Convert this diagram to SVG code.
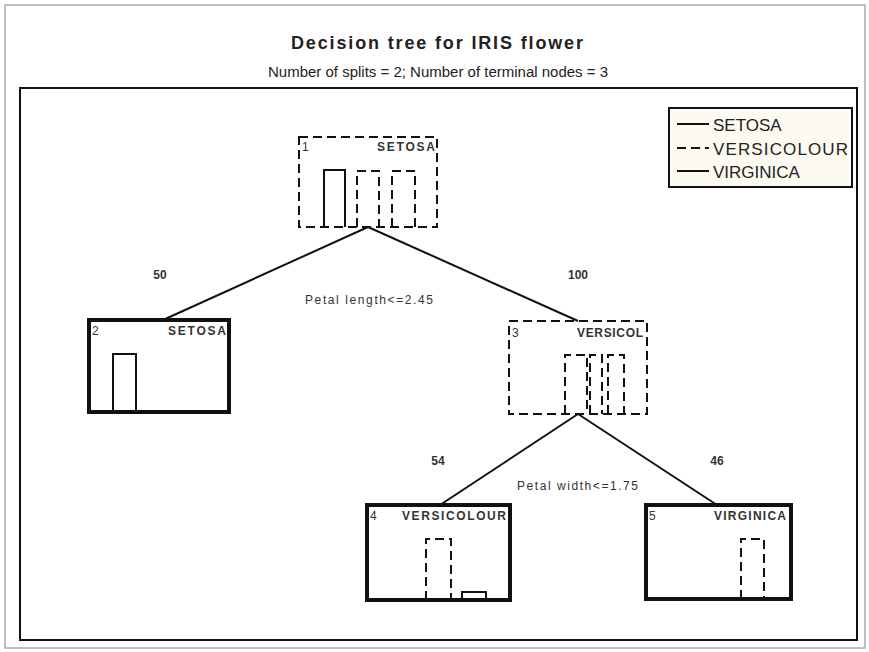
<svg xmlns="http://www.w3.org/2000/svg" width="869" height="652" viewBox="0 0 869 652">
<style>
text{font-family:"Liberation Sans",Arial,sans-serif;fill:#222}
.title{font-size:18px;font-weight:bold;text-anchor:middle}
.sub{font-size:14px;text-anchor:middle}
.lab{font-size:12px;font-weight:bold;fill:#333}
.num{font-size:12px;fill:#333}
.leg{font-size:17px}
.dash{fill:none;stroke:#111;stroke-width:2;stroke-dasharray:9,5}
.solid{fill:none;stroke:#111;stroke-width:2}
.term{fill:#fff;stroke:#111;stroke-width:4}
.edge{stroke:#111;stroke-width:2;fill:none}
</style>
<rect x="0" y="0" width="869" height="652" fill="#fff"/>
<rect x="5" y="5" width="860" height="643" fill="none" stroke="#aaa" stroke-width="1.5"/>
<text class="title" x="437" y="49" textLength="292" lengthAdjust="spacing">Decision tree for IRIS flower</text>
<text class="sub" x="438" y="77" textLength="340" lengthAdjust="spacingAndGlyphs">Number of splits = 2; Number of terminal nodes = 3</text>
<rect x="20" y="88" width="837" height="552" fill="none" stroke="#111" stroke-width="2"/>

<g id="legend">
<rect x="669" y="108" width="183" height="79" fill="#fdfaf2" stroke="#111" stroke-width="2"/>
<line x1="677" y1="124" x2="709" y2="124" class="solid"/>
<line x1="677" y1="148" x2="709" y2="148" class="dash" stroke-dasharray="11,8"/>
<line x1="677" y1="171" x2="709" y2="171" class="solid"/>
<text class="leg" x="713" y="131">SETOSA</text>
<text class="leg" x="713" y="155" textLength="135" lengthAdjust="spacing">VERSICOLOUR</text>
<text class="leg" x="713" y="178">VIRGINICA</text>
</g>

<g id="connectors">
<line x1="368" y1="227" x2="163" y2="320" class="edge"/>
<line x1="368" y1="227" x2="578" y2="321" class="edge"/>
<line x1="578" y1="414" x2="440" y2="505" class="edge"/>
<line x1="578" y1="414" x2="717" y2="505" class="edge"/>
<text class="lab" x="160" y="279" text-anchor="middle">50</text>
<text class="lab" x="578" y="279" text-anchor="middle">100</text>
<text class="num" x="305" y="304" textLength="128" lengthAdjust="spacing">Petal length&lt;=2.45</text>
<text class="lab" x="438" y="465" text-anchor="middle">54</text>
<text class="lab" x="717" y="465" text-anchor="middle">46</text>
<text class="num" x="517" y="490" textLength="121" lengthAdjust="spacing">Petal width&lt;=1.75</text>
</g>

<g id="node1">
<rect x="299" y="137" width="138" height="90" fill="#fff" class="dash"/>
<text class="num" x="302" y="151">1</text>
<text class="lab" x="435" y="151" text-anchor="end" textLength="58" lengthAdjust="spacing">SETOSA</text>
<polyline points="324,227 324,170 345,170 345,227" class="solid"/>
<polyline points="357,227 357,171 379,171 379,227" class="dash" stroke-dasharray="7,5"/>
<polyline points="392,227 392,171 415,171 415,227" class="dash" stroke-dasharray="7,5"/>
</g>

<g id="node2">
<rect x="89" y="320" width="140" height="92" class="term"/>
<text class="num" x="92" y="335">2</text>
<text class="lab" x="226" y="335" text-anchor="end" textLength="58" lengthAdjust="spacing">SETOSA</text>
<polyline points="113,412 113,354 136,354 136,412" class="solid"/>
</g>

<g id="node3">
<rect x="509" y="321" width="138" height="93" fill="#fff" class="dash"/>
<text class="num" x="512" y="337">3</text>
<text class="lab" x="643" y="337" text-anchor="end" textLength="66" lengthAdjust="spacing">VERSICOL</text>
<polyline points="565,414 565,355 587,355 587,414" class="dash" stroke-dasharray="7,5"/>
<polyline points="590,414 590,355 602,355 602,414" class="dash" stroke-dasharray="7,5"/>
<polyline points="608,414 608,355 624,355 624,414" class="dash" stroke-dasharray="7,5"/>
</g>

<g id="node4">
<rect x="367" y="505" width="143" height="95" class="term"/>
<text class="num" x="370" y="520">4</text>
<text class="lab" x="506" y="520" text-anchor="end" textLength="104" lengthAdjust="spacing">VERSICOLOUR</text>
<polyline points="426,600 426,539 451,539 451,600" class="dash" stroke-dasharray="8,5"/>
<polyline points="462,600 462,592 486,592 486,600" class="solid"/>
</g>

<g id="node5">
<rect x="646" y="505" width="145" height="94" class="term"/>
<text class="num" x="649" y="520">5</text>
<text class="lab" x="786" y="520" text-anchor="end" textLength="72" lengthAdjust="spacing">VIRGINICA</text>
<polyline points="741,599 741,539 764,539 764,599" class="dash" stroke-dasharray="8,5"/>
</g>
</svg>
